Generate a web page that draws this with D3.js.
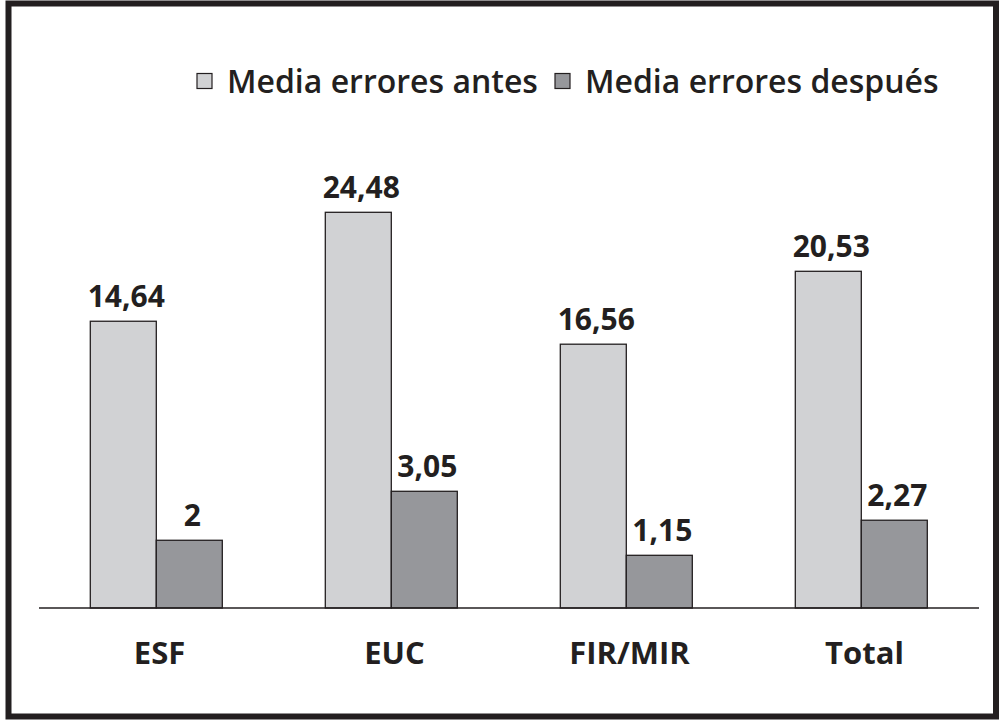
<!DOCTYPE html>
<html><head><meta charset="utf-8">
<script src="https://cdn.jsdelivr.net/npm/d3@7/dist/d3.min.js"></script>
<style>html,body{margin:0;padding:0;background:#fff}</style>
</head><body>
<svg id="chart" width="1000" height="720"></svg>
<script>
// Categories
const categories = ["ESF", "EUC", "FIR/MIR", "Total"];
// Series names
const seriesNames = ["Media errores antes", "Media errores después"];
// Printed value labels (as shown on chart)
const labelsAntes = ["14,64", "24,48", "16,56", "20,53"];
const labelsDespues = ["2", "3,05", "1,15", "2,27"];
// Bar lengths as drawn in the picture (same units as the 24,48 bar)
const barsAntes = [17.74, 24.48, 16.32, 20.83];
const barsDespues = [4.19, 7.22, 3.26, 5.43];

const colors = ["#d1d2d4", "#96979b"];
const ink = "#231f20";
const font = "'Open Sans', 'DejaVu Sans', sans-serif";

const svg = d3.select("#chart");

// outer frame
svg.append("rect").attr("x", 8.5).attr("y", 3.5).attr("width", 987.5).attr("height", 713)
  .attr("fill", "#fff").attr("stroke", ink).attr("stroke-width", 6);

const x0 = d3.scaleBand().domain(categories).range([39, 979]);
const x1 = d3.scaleBand().domain([0, 1]).range([51.3, 51.3 + 132]);
const y = d3.scaleLinear().domain([0, 24.48]).range([608, 212.3]);

const data = categories.map((c, i) => ({
  cat: c,
  vals: [
    {s: 0, v: barsAntes[i], label: labelsAntes[i]},
    {s: 1, v: barsDespues[i], label: labelsDespues[i]}
  ]
}));

const g = svg.append("g");
const groups = g.selectAll("g.grp").data(data).join("g")
  .attr("transform", d => `translate(${x0(d.cat)},0)`);

groups.selectAll("rect").data(d => d.vals).join("rect")
  .attr("x", d => x1(d.s))
  .attr("y", d => y(d.v))
  .attr("width", x1.bandwidth())
  .attr("height", d => y(0) - y(d.v))
  .attr("fill", d => colors[d.s])
  .attr("stroke", ink).attr("stroke-width", 1.3);

groups.selectAll("text.val").data(d => d.vals).join("text")
  .attr("class", "val")
  .attr("x", d => x1(d.s) + x1.bandwidth() / 2 + 3)
  .attr("y", d => y(d.v) - 14)
  .attr("text-anchor", "middle")
  .attr("font-family", font).attr("font-weight", 700).attr("font-size", 30)
  .attr("fill", ink)
  .text(d => d.label);

// baseline axis
const xAxis = d3.axisBottom(x0).tickSize(0).tickPadding(0);
const axG = svg.append("g").attr("transform", `translate(0,${y(0)})`).call(xAxis);
axG.select(".domain").attr("d", `M39,0H979`).attr("stroke", ink).attr("stroke-width", 1.5);
axG.selectAll(".tick text")
  .attr("x", 3)
  .attr("y", 55.5).attr("dy", 0)
  .attr("font-family", font).attr("font-weight", 700).attr("font-size", 31)
  .attr("fill", ink);

// legend
const legendItems = [
  {name: seriesNames[0], x: 197, c: colors[0]},
  {name: seriesNames[1], x: 555, c: colors[1]}
];
const lg = svg.append("g");
legendItems.forEach(it => {
  lg.append("rect").attr("x", it.x).attr("y", 73.5).attr("width", 15).attr("height", 15)
    .attr("fill", it.c).attr("stroke", ink).attr("stroke-width", 1.2);
  lg.append("text").attr("x", it.x + 30).attr("y", 93)
    .attr("font-family", font).attr("font-weight", 600).attr("font-size", 32)
    .attr("fill", ink).text(it.name);
});
</script>
</body></html>
